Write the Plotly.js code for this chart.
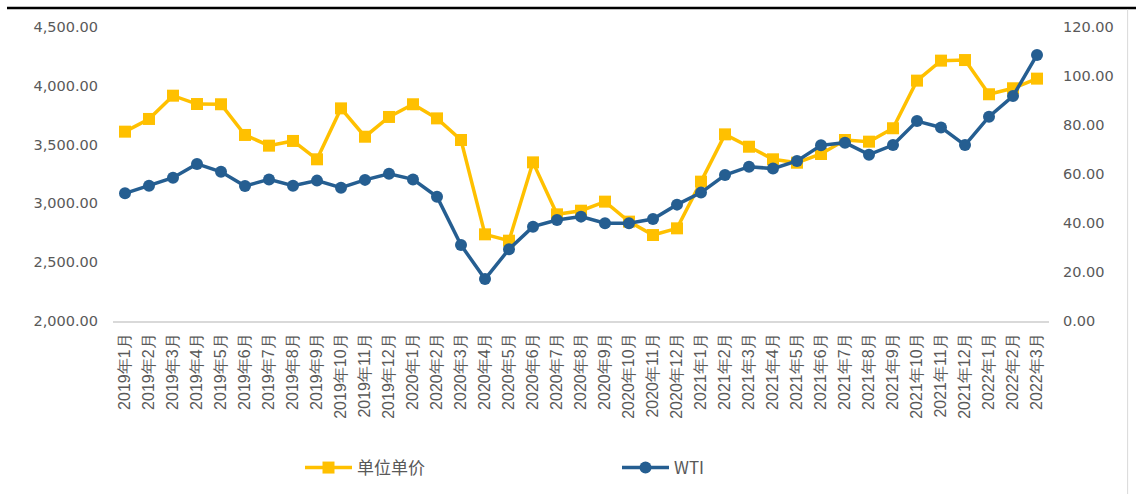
<!DOCTYPE html>
<html>
<head>
<meta charset="utf-8">
<script src="https://cdn.plot.ly/plotly-3.0.1.min.js"></script>
<style>
  html, body { margin: 0; padding: 0; background: #fff; }
  #chart { width: 1136px; height: 494px; }
</style>
</head>
<body>
<div id="chart"></div>
<script>
const months = [
  "2019年1月","2019年2月","2019年3月","2019年4月","2019年5月","2019年6月","2019年7月","2019年8月","2019年9月","2019年10月","2019年11月","2019年12月",
  "2020年1月","2020年2月","2020年3月","2020年4月","2020年5月","2020年6月","2020年7月","2020年8月","2020年9月","2020年10月","2020年11月","2020年12月",
  "2021年1月","2021年2月","2021年3月","2021年4月","2021年5月","2021年6月","2021年7月","2021年8月","2021年9月","2021年10月","2021年11月","2021年12月",
  "2022年1月","2022年2月","2022年3月"
];
const unitPrice = [
  3610, 3718, 3916, 3845, 3843, 3582, 3491, 3531, 3375, 3808, 3567, 3735,
  3843, 3723, 3539, 2737, 2683, 3349, 2907, 2938, 3015, 2845, 2731, 2788,
  3185, 3587, 3482, 3375, 3346, 3420, 3539, 3525, 3639, 4044, 4214, 4219,
  3928, 3979, 4061
];
const wti = [
  52.1, 55.2, 58.5, 64.1, 60.9, 55.1, 57.8, 55.2, 57.3, 54.4, 57.6, 60.1,
  57.8, 50.7, 31.0, 17.1, 29.3, 38.5, 41.2, 42.6, 39.9, 39.9, 41.6, 47.5,
  52.4, 59.6, 63.0, 62.2, 65.3, 71.7, 72.8, 67.9, 71.8, 81.6, 79.0, 71.8,
  83.4, 91.8, 108.6
];
const leftTicks = [2000, 2500, 3000, 3500, 4000, 4500];
const rightTicks = [0, 20, 40, 60, 80, 100, 120];

const traces = [
  {
    x: months, y: unitPrice, name: "单位单价", type: "scatter", mode: "lines+markers",
    line: { color: "#FFC000", width: 3.5 },
    marker: { symbol: "square", size: 12, color: "#FFC000" },
    yaxis: "y"
  },
  {
    x: months, y: wti, name: "WTI", type: "scatter", mode: "lines+markers",
    line: { color: "#255E91", width: 3.5 },
    marker: { symbol: "circle", size: 12, color: "#255E91" },
    yaxis: "y2"
  }
];

const tickFontY = { family: "DejaVu Sans", size: 14.5, color: "#595959" };

const layout = {
  width: 1136, height: 494,
  margin: { l: 113, r: 87, t: 27, b: 173, pad: 0, autoexpand: false },
  paper_bgcolor: "#ffffff", plot_bgcolor: "#ffffff",
  showlegend: true,
  legend: {
    orientation: "h", x: (300 - 113) / 936, xref: "paper", xanchor: "left",
    y: -0.5, yanchor: "middle",
    entrywidth: 255, entrywidthmode: "pixels",
    font: { family: "Noto Sans CJK SC", size: 17, color: "#595959" },
    itemwidth: 47
  },
  xaxis: {
    type: "category", tickangle: -90,
    tickfont: { family: "Liberation Sans", size: 16, color: "#595959" },
    showgrid: false, zeroline: false, showline: true, linecolor: "#d9d9d9", linewidth: 2,
    ticks: "", range: [-0.5, months.length - 0.5], fixedrange: true,
    ticklabelstandoff: 4, automargin: false
  },
  yaxis: {
    range: [2000, 4500], tickvals: leftTicks,
    ticktext: leftTicks.map(v => v.toLocaleString("en-US", { minimumFractionDigits: 2, maximumFractionDigits: 2 })),
    tickfont: tickFontY, showgrid: false, zeroline: false, showline: false, ticks: "",
    ticklabelstandoff: 14, automargin: false
  },
  yaxis2: {
    overlaying: "y", side: "right",
    range: [0, 120], tickvals: rightTicks,
    ticktext: rightTicks.map(v => v.toFixed(2)),
    tickfont: tickFontY, showgrid: false, zeroline: false, showline: false, ticks: "",
    ticklabelstandoff: 13, automargin: false
  },
  shapes: [
    { type: "line", xref: "paper", yref: "paper", x0: (7 - 113) / 936, x1: 1.1, y0: 1.065, y1: 1.065,
      line: { color: "#000000", width: 2.5 } },
    { type: "line", xref: "paper", yref: "paper", x0: 1.084, x1: 1.084, y0: 1.06, y1: -0.6,
      line: { color: "#d9d9d9", width: 1 } }
  ]
};

Plotly.newPlot("chart", traces, layout, { displayModeBar: false, staticPlot: true });
</script>
</body>
</html>
